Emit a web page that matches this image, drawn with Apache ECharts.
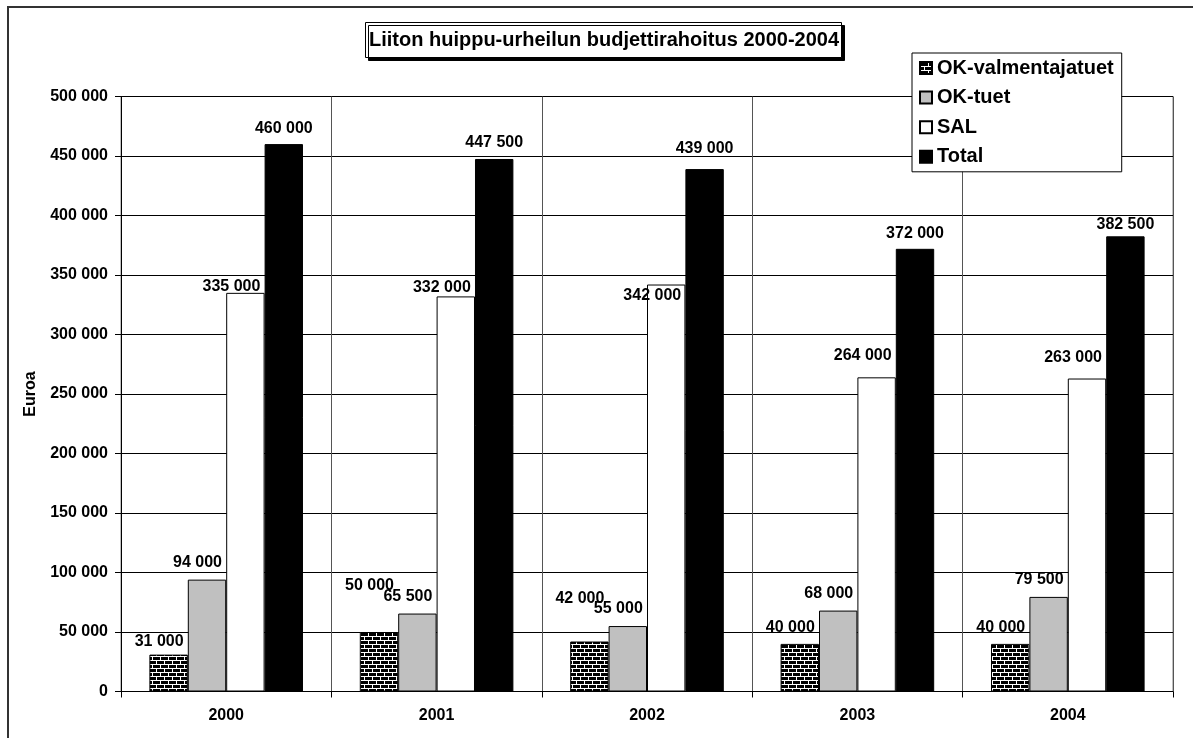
<!DOCTYPE html>
<html>
<head>
<meta charset="utf-8">
<script src="https://cdn.jsdelivr.net/npm/echarts@6/dist/echarts.min.js"></script>
<style>
html,body{margin:0;padding:0;background:#fff;}
#c{width:1193px;height:738px;}
</style>
</head>
<body>
<div id="c"></div>
<script>
const categories = ['2000', '2001', '2002', '2003', '2004'];
const okValmentajatuet = [31000, 50000, 42000, 40000, 40000];
const okTuet = [94000, 65500, 55000, 68000, 79500];
const sal = [335000, 332000, 342000, 264000, 263000];
const total = [460000, 447500, 439000, 372000, 382500];
const seriesNames = ['OK-valmentajatuet', 'OK-tuet', 'SAL', 'Total'];
const titleText = 'Liiton huippu-urheilun budjettirahoitus 2000-2004';
const yName = 'Euroa';

// label placement nudges (pixels, vertical) — layout only, mimicking the original's hand-placed labels
const nudgeValm = [0, -33, -30, -3, -3];
const nudgeTuet = [0, 0, 0, 0, 0];
const nudgeSal = [3, 0, 20, -13, -12];
const nudgeTotal = [0, 0, -4, 1, 4];

function fmt(v) {
  return String(v).replace(/\B(?=(\d{3})+(?!\d))/g, ' ');
}

// brick pattern
const pc = document.createElement('canvas');
pc.width = 8; pc.height = 8;
const g = pc.getContext('2d');
g.fillStyle = '#000'; g.fillRect(0, 0, 8, 8);
g.fillStyle = '#fff';
g.fillRect(0, 0, 8, 1);
g.fillRect(0, 4, 8, 1);
g.fillRect(0, 1, 1, 3);
g.fillRect(4, 5, 1, 3);

const FONT = "'Liberation Sans', Arial, sans-serif";
const chart = echarts.init(document.getElementById('c'), null, {renderer: 'canvas'});

function labelCfg(alignRight, dist) {
  const l = {
    show: true,
    position: 'top',
    distance: dist,
    color: '#000',
    fontFamily: FONT,
    fontWeight: 'bold',
    fontSize: 16,
    formatter: p => fmt(p.value)
  };
  if (alignRight) { l.align = 'right'; l.offset = [15, 0]; }
  return l;
}
function withNudge(values, nudges, dx) {
  return values.map((v, i) => ({value: v, label: {offset: [dx, nudges[i]]}}));
}

chart.setOption({
  animation: false,
  backgroundColor: '#fff',
  title: {
    text: titleText,
    left: 365,
    top: 22,
    padding: [7, 3, 7, 4],
    backgroundColor: '#fff',
    borderColor: '#000',
    borderWidth: 1,
    shadowColor: '#000',
    shadowBlur: 0,
    shadowOffsetX: 3,
    shadowOffsetY: 3,
    textStyle: {fontFamily: FONT, fontWeight: 'bold', fontSize: 20, color: '#000', lineHeight: 22}
  },
  legend: {
    orient: 'vertical',
    left: 912,
    top: 53,
    padding: [5, 8, 5, 7],
    backgroundColor: '#fff',
    borderColor: '#000',
    borderWidth: 1,
    itemWidth: 12,
    itemHeight: 12,
    itemGap: 9.6,
    icon: 'rect',
    selectedMode: false,
    textStyle: {fontFamily: FONT, fontWeight: 'bold', fontSize: 20, color: '#000', lineHeight: 20},
    data: seriesNames
  },
  grid: {
    left: 121, right: 20, top: 96.5, bottom: 46.5,
    show: true, borderColor: '#808080', borderWidth: 1, backgroundColor: 'transparent'
  },
  xAxis: {
    type: 'category',
    data: categories,
    axisLine: {lineStyle: {color: '#000', width: 1}},
    axisTick: {show: true, length: 6, lineStyle: {color: '#000'}},
    axisLabel: {margin: 16, fontFamily: FONT, fontWeight: 'bold', fontSize: 16, color: '#000'},
    splitLine: {show: true, lineStyle: {color: '#555', width: 1}}
  },
  yAxis: {
    type: 'value',
    min: 0, max: 500000, interval: 50000,
    name: yName,
    nameLocation: 'middle',
    nameGap: 82,
    nameRotate: 90,
    nameTextStyle: {fontFamily: FONT, fontWeight: 'bold', fontSize: 16, color: '#000'},
    axisLine: {show: true, lineStyle: {color: '#000', width: 1}},
    axisTick: {show: true, length: 6, lineStyle: {color: '#000'}},
    axisLabel: {margin: 13, fontFamily: FONT, fontWeight: 'bold', fontSize: 16, color: '#000', formatter: v => fmt(v)},
    splitLine: {show: true, lineStyle: {color: '#000', width: 1}}
  },
  series: [
    {name: seriesNames[0], type: 'bar', data: withNudge(okValmentajatuet, nudgeValm, 15), barGap: '0%', barCategoryGap: '27%',
     itemStyle: {color: {image: pc, repeat: 'repeat'}, borderColor: '#000', borderWidth: 1},
     label: labelCfg(true, 5)},
    {name: seriesNames[1], type: 'bar', data: withNudge(okTuet, nudgeTuet, 15), barGap: '0%', barCategoryGap: '27%',
     itemStyle: {color: '#C0C0C0', borderColor: '#000', borderWidth: 1},
     label: labelCfg(true, 9)},
    {name: seriesNames[2], type: 'bar', data: withNudge(sal, nudgeSal, 15), barGap: '0%', barCategoryGap: '27%',
     itemStyle: {color: '#FFFFFF', borderColor: '#000', borderWidth: 1},
     label: labelCfg(true, 1)},
    {name: seriesNames[3], type: 'bar', data: withNudge(total, nudgeTotal, 0), barGap: '0%', barCategoryGap: '27%',
     itemStyle: {color: '#000000', borderColor: '#000', borderWidth: 1},
     label: labelCfg(false, 8)}
  ],
  graphic: [{
    type: 'rect', z: 100, silent: true,
    shape: {x: 8, y: 7, width: 1250, height: 800},
    style: {fill: 'none', stroke: '#333', lineWidth: 2}
  }]
});
</script>
</body>
</html>
